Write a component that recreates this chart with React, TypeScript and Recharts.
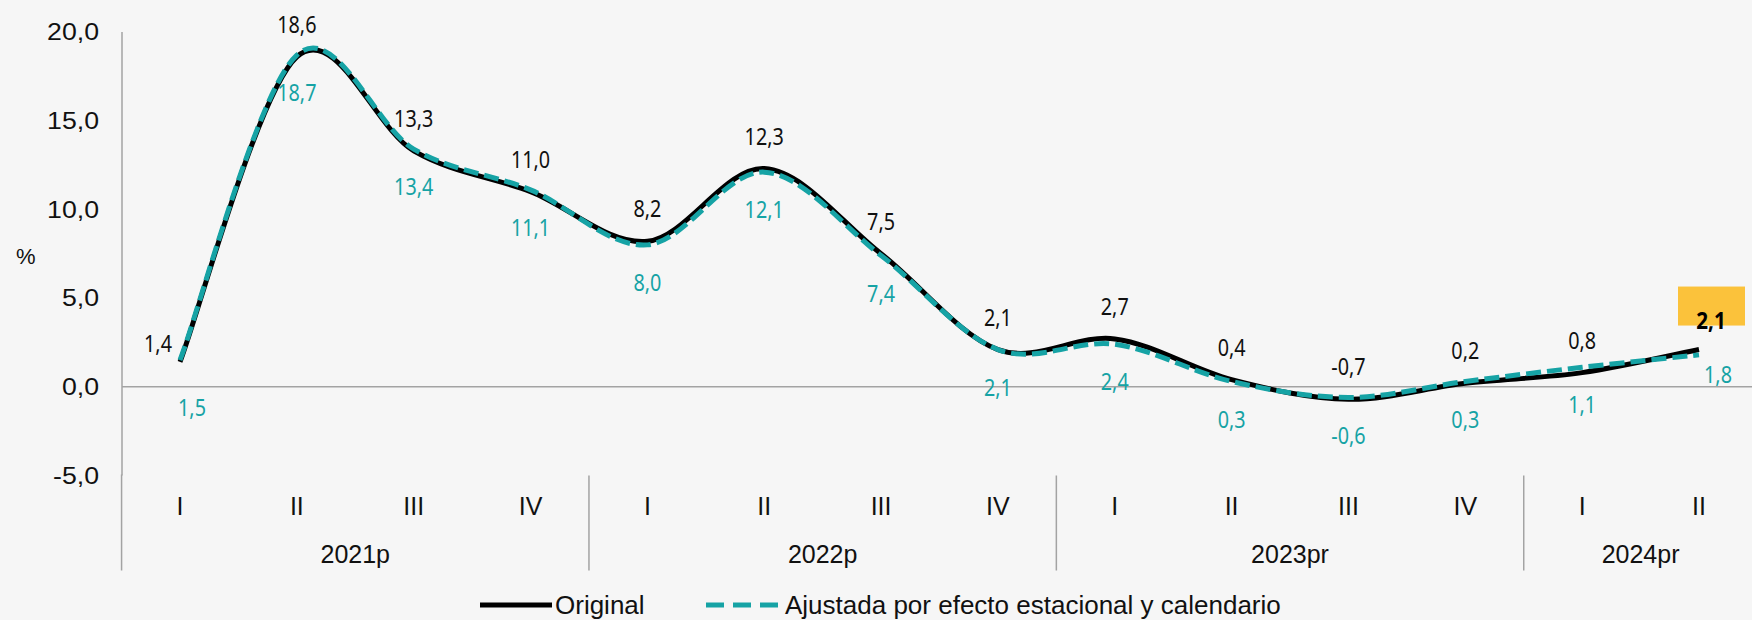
import { LabelList, Legend, Line, LineChart, ReferenceLine, XAxis, YAxis } from "recharts";

const quarters = ["I", "II", "III", "IV", "I", "II", "III", "IV", "I", "II", "III", "IV", "I", "II"];
const years = ["2021p", "2022p", "2023pr", "2024pr"];
const quartersPerYear = [4, 4, 4, 2];
const original = [1.4, 18.6, 13.3, 11.0, 8.2, 12.3, 7.5, 2.1, 2.7, 0.4, -0.7, 0.2, 0.8, 2.1];
const adjusted = [1.5, 18.7, 13.4, 11.1, 8.0, 12.1, 7.4, 2.1, 2.4, 0.3, -0.6, 0.3, 1.1, 1.8];
const yTicks = [-5, 0, 5, 10, 15, 20];

const W = 1752;
const H = 620;
const PLOT_LEFT = 122;
const PAD_L = 58;
const PAD_R = 53;
const STEP = (W - PLOT_LEFT - PAD_L - PAD_R) / (quarters.length - 1);

const TEAL = "#16a3a5";
const AXIS_GRAY = "#a3a3a3";
const AXIS_FONT = "'Liberation Sans', Arial, sans-serif";
const LABEL_FONT = "'Noto Sans', sans-serif";
const LABEL_SQUEEZE = 0.86; // the value labels use a narrow face

// year of each quarter, and position within that year
const yearOf: { year: number; pos: number }[] = [];
quartersPerYear.forEach((n, yi) => {
  for (let p = 0; p < n; p++) yearOf.push({ year: yi, pos: p });
});

const data = quarters.map((q, i) => ({
  key: `${years[yearOf[i].year]}-${q}`,
  original: original[i],
  adjusted: adjusted[i],
}));

const fmt = (v: number) => v.toFixed(1).replace(".", ",");

// Excel-style smoothed line (Catmull-Rom through every point)
function excelSmooth(context: any) {
  let pts: number[][] = [];
  return {
    areaStart() {},
    areaEnd() {},
    lineStart() { pts = []; },
    point(x: number, y: number) { pts.push([+x, +y]); },
    lineEnd() {
      const n = pts.length;
      if (!n) return;
      context.moveTo(pts[0][0], pts[0][1]);
      for (let i = 0; i < n - 1; i++) {
        const p0 = pts[Math.max(i - 1, 0)];
        const p1 = pts[i];
        const p2 = pts[i + 1];
        const p3 = pts[Math.min(i + 2, n - 1)];
        context.bezierCurveTo(
          p1[0] + (p2[0] - p0[0]) / 6, p1[1] + (p2[1] - p0[1]) / 6,
          p2[0] - (p3[0] - p1[0]) / 6, p2[1] - (p3[1] - p1[1]) / 6,
          p2[0], p2[1],
        );
      }
    },
  };
}

function ValueText({ x, y, children, fill, bold, size }: any) {
  return (
    <text transform={`translate(${x},${y}) scale(${LABEL_SQUEEZE},1)`} textAnchor="middle" dominantBaseline="central"
      fontFamily={LABEL_FONT} fontSize={size} fontWeight={bold ? 700 : 400} fill={fill}>{children}</text>
  );
}

function QuarterTick(props: any) {
  const { x, y, index } = props;
  const { year, pos } = yearOf[index];
  const n = quartersPerYear[year];
  const mid = Math.floor((n - 1) / 2);
  return (
    <g>
      <text x={x} y={y + 30} textAnchor="middle" dominantBaseline="central"
        fontFamily={AXIS_FONT} fontSize={25} fill="#111">{quarters[index]}</text>
      {pos === mid && (
        <text x={n % 2 === 0 ? x + STEP / 2 : x} y={y + 78} textAnchor="middle" dominantBaseline="central"
          fontFamily={AXIS_FONT} fontSize={25} fill="#111">{years[year]}</text>
      )}
      {pos === 0 && (
        <line x1={x - STEP / 2} x2={x - STEP / 2} y1={index === 0 ? y - 1 : y} y2={y + 95}
          stroke={AXIS_GRAY} strokeWidth={1.5} />
      )}
    </g>
  );
}

function ValueTick(props: any) {
  const { x, y, payload } = props;
  return (
    <text transform={`translate(${x},${y}) scale(1.16,1)`} textAnchor="end" dominantBaseline="central"
      fontFamily={AXIS_FONT} fontSize={23} fill="#111">{fmt(payload.value)}</text>
  );
}

function OriginalLabel(props: any) {
  const { x, y, value, index } = props;
  if (index === original.length - 1) {
    return (
      <g>
        <rect x={x - 21} y={y - 63} width={67} height={39} fill="#fbc23b" />
        <ValueText x={x + 12} y={y - 30} fill="#000" bold size={24}>{fmt(value)}</ValueText>
      </g>
    );
  }
  const dx = index === 0 ? -22 : 0;
  const dy = index === 0 ? -19 : -33;
  return <ValueText x={x + dx} y={y + dy} fill="#111" size={23}>{fmt(value)}</ValueText>;
}

function AdjustedLabel(props: any) {
  const { x, y, value, index } = props;
  let dx = 0;
  let dy = 37;
  if (index === 0) { dx = 12; dy = 47; }
  if (index === adjusted.length - 1) { dx = 19; dy = 19; }
  return <ValueText x={x + dx} y={y + dy} fill={TEAL} size={23}>{fmt(value)}</ValueText>;
}

function ChartLegend() {
  return (
    <svg width={W} height={36}>
      <line x1={480} x2={552} y1={18} y2={18} stroke="#000" strokeWidth={5} />
      <text x={555} y={18} dominantBaseline="central" fontFamily={AXIS_FONT} fontSize={26} fill="#111">Original</text>
      <line x1={706} x2={778} y1={18} y2={18} stroke={TEAL} strokeWidth={5} strokeDasharray="18 9" />
      <text x={785} y={18} dominantBaseline="central" fontFamily={AXIS_FONT} fontSize={26} fill="#111">
        Ajustada por efecto estacional y calendario
      </text>
    </svg>
  );
}

export default function App() {
  return (
    <div style={{ position: "absolute", left: 0, top: 0, width: W, height: H, background: "#f6f6f6", overflow: "hidden" }}>
      <LineChart width={W} height={H} data={data} margin={{ top: 32, right: 0, bottom: 44.5, left: 0 }}>
        <XAxis dataKey="key" height={100} interval={0} axisLine={false} tickLine={false} tickSize={0} tickMargin={0}
          padding={{ left: PAD_L, right: PAD_R }} tick={<QuarterTick />} />
        <YAxis width={122} domain={[-5, 20]} ticks={yTicks} interval={0} tickLine={false} tickSize={0} tickMargin={23}
          axisLine={{ stroke: AXIS_GRAY, strokeWidth: 1.5 }} tick={<ValueTick />}
          label={{ value: "%", position: "insideLeft", dx: 11, dy: 2, style: { fill: "#111", fontFamily: AXIS_FONT, fontSize: 22 } }} />
        <ReferenceLine y={0} stroke={AXIS_GRAY} strokeWidth={1.5} />
        <Line dataKey="original" type={excelSmooth as any} stroke="#000" strokeWidth={5} dot={false}
          isAnimationActive={false}>
          <LabelList dataKey="original" content={<OriginalLabel />} />
        </Line>
        <Line dataKey="adjusted" type={excelSmooth as any} stroke={TEAL} strokeWidth={5} strokeDasharray="15 6" dot={false}
          isAnimationActive={false}>
          <LabelList dataKey="adjusted" content={<AdjustedLabel />} />
        </Line>
        <Legend layout="horizontal" verticalAlign="middle" align="center" content={<ChartLegend />}
          wrapperStyle={{ left: 0, top: 587, width: W, height: 36 }} />
      </LineChart>
    </div>
  );
}
